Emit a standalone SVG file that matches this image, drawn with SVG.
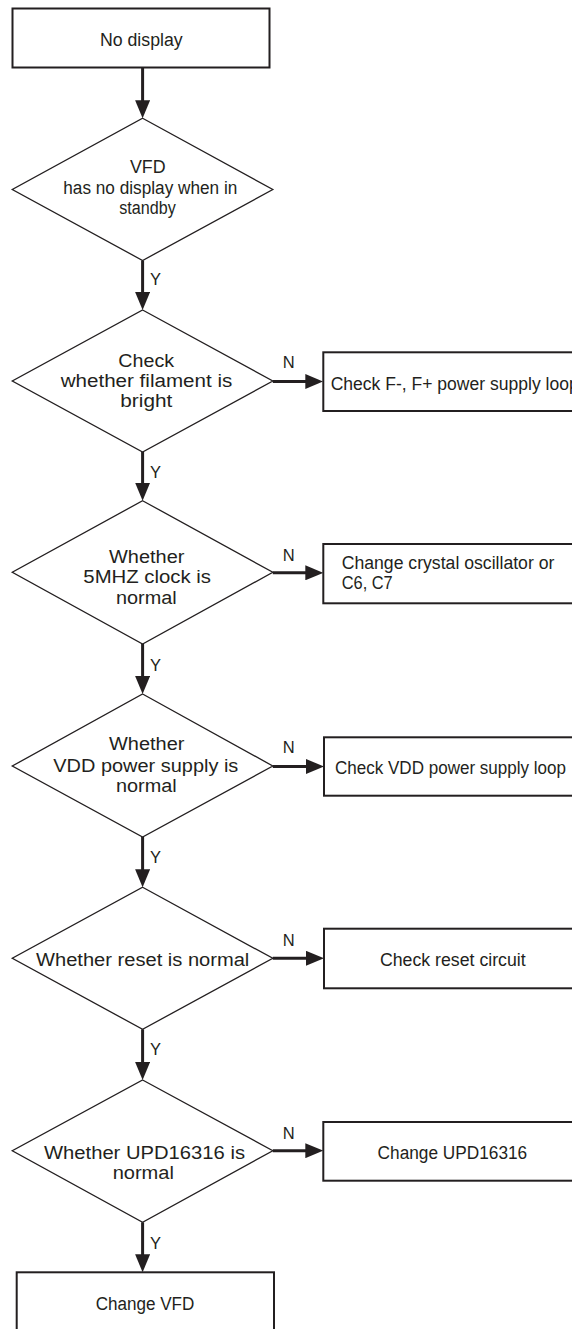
<svg xmlns="http://www.w3.org/2000/svg" width="572" height="1329" viewBox="0 0 572 1329">
  <style>
    .box { fill: #ffffff; stroke: #231f20; stroke-width: 2; }
    .dia { fill: #ffffff; stroke: #231f20; stroke-width: 1.3; stroke-linejoin: miter; }
    .edge { fill: none; stroke: #231f20; stroke-width: 3; marker-end: url(#arrow); }
    .t { font-family: "Liberation Sans", Arial, sans-serif; font-size: 18px; fill: #231f20; }
    .c { text-anchor: middle; }
    .lbl { font-family: "Liberation Sans", Arial, sans-serif; font-size: 16.5px; fill: #231f20; }
  </style>
  <defs>
    <marker id="arrow" markerUnits="userSpaceOnUse" markerWidth="18" markerHeight="15" refX="6" refY="7.5" orient="auto">
      <path d="M0,0 L18,7.5 L0,15 Z" fill="#231f20"/>
    </marker>
  </defs>

  <rect width="572" height="1329" fill="#ffffff"/>

  <!-- connectors -->
  <g id="connectors">
    <path class="edge" d="M142.6,67.5 V106.3"/>
    <path class="edge" d="M142.6,260.5 V298"/>
    <path class="edge" d="M142.6,452 V488.7"/>
    <path class="edge" d="M142.6,644 V682"/>
    <path class="edge" d="M142.6,837 V875.3"/>
    <path class="edge" d="M142.6,1029.3 V1068"/>
    <path class="edge" d="M142.6,1222.3 V1260.3"/>
    <path class="edge" d="M272.8,381.5 H311.3"/>
    <path class="edge" d="M272.8,572.8 H311.3"/>
    <path class="edge" d="M272.8,766.5 H312"/>
    <path class="edge" d="M272.8,958.3 H312"/>
    <path class="edge" d="M272.8,1150.7 H311.3"/>
    <g id="edge-labels">
      <text class="lbl" x="150" y="285">Y</text>
      <text class="lbl" x="150" y="478.3">Y</text>
      <text class="lbl" x="150" y="670.7">Y</text>
      <text class="lbl" x="150" y="862.7">Y</text>
      <text class="lbl" x="150" y="1055">Y</text>
      <text class="lbl" x="150" y="1249">Y</text>
      <text class="lbl" x="282.7" y="368.3">N</text>
      <text class="lbl" x="282.7" y="560.7">N</text>
      <text class="lbl" x="282.7" y="753.3">N</text>
      <text class="lbl" x="282.7" y="945.7">N</text>
      <text class="lbl" x="282.7" y="1139">N</text>
    </g>
  </g>

  <!-- start -->
  <g id="start">
    <rect class="box" x="12.5" y="8.5" width="257" height="59"/>
    <text class="t c" x="141.3" y="46" textLength="82.7" lengthAdjust="spacingAndGlyphs">No display</text>
  </g>

  <!-- decisions -->
  <g id="d1">
    <polygon class="dia" points="142.6,118.3 272.8,189.5 142.6,260.5 12.3,189.5"/>
    <text class="t c" x="147.8" y="172.5" textLength="35.7" lengthAdjust="spacingAndGlyphs">VFD</text>
    <text class="t c" x="150.3" y="193.5" textLength="174" lengthAdjust="spacingAndGlyphs">has no display when in</text>
    <text class="t c" x="147.5" y="213.5" textLength="56.4" lengthAdjust="spacingAndGlyphs">standby</text>
  </g>

  <g id="d2">
    <polygon class="dia" points="142.6,310 272.8,381 142.6,452 12.3,381"/>
    <text class="t c" x="146.2" y="367.3" textLength="55.7" lengthAdjust="spacingAndGlyphs">Check</text>
    <text class="t c" x="146.5" y="387.3" textLength="171.6" lengthAdjust="spacingAndGlyphs">whether filament is</text>
    <text class="t c" x="146.3" y="407.3" textLength="52" lengthAdjust="spacingAndGlyphs">bright</text>
  </g>

  <g id="d3">
    <polygon class="dia" points="142.6,500.7 272.8,572.3 142.6,644 12.3,572.3"/>
    <text class="t c" x="146.7" y="562.7" textLength="75.3" lengthAdjust="spacingAndGlyphs">Whether</text>
    <text class="t c" x="147.2" y="583.3" textLength="127.7" lengthAdjust="spacingAndGlyphs">5MHZ clock is</text>
    <text class="t c" x="146.3" y="604.3" textLength="60.7" lengthAdjust="spacingAndGlyphs">normal</text>
  </g>

  <g id="d4">
    <polygon class="dia" points="142.6,694 272.8,766 142.6,837 12.3,766"/>
    <text class="t c" x="146.7" y="750" textLength="75.3" lengthAdjust="spacingAndGlyphs">Whether</text>
    <text class="t c" x="145.8" y="771.7" textLength="185" lengthAdjust="spacingAndGlyphs">VDD power supply is</text>
    <text class="t c" x="146.3" y="792.4" textLength="60.7" lengthAdjust="spacingAndGlyphs">normal</text>
  </g>

  <g id="d5">
    <polygon class="dia" points="142.6,887.3 272.8,958.3 142.6,1029.3 12.3,958.3"/>
    <text class="t c" x="142.7" y="966" textLength="213.3" lengthAdjust="spacingAndGlyphs">Whether reset is normal</text>
  </g>

  <g id="d6">
    <polygon class="dia" points="142.6,1080 272.8,1150.7 142.6,1222.3 12.3,1150.7"/>
    <text class="t c" x="144.5" y="1159" textLength="201" lengthAdjust="spacingAndGlyphs">Whether UPD16316 is</text>
    <text class="t c" x="143.3" y="1179.3" textLength="61.3" lengthAdjust="spacingAndGlyphs">normal</text>
  </g>

  <!-- actions -->
  <g id="a1">
    <rect class="box" x="323.3" y="352.3" width="259" height="58.7"/>
    <text class="t" x="330.7" y="390" textLength="248" lengthAdjust="spacingAndGlyphs">Check F-, F+ power supply loop</text>
  </g>

  <g id="a2">
    <rect class="box" x="323.3" y="544" width="259" height="59.3"/>
    <text class="t" x="341.7" y="569" textLength="212.7" lengthAdjust="spacingAndGlyphs">Change crystal oscillator or</text>
    <text class="t" x="341.7" y="589.3" textLength="51" lengthAdjust="spacingAndGlyphs">C6, C7</text>
  </g>

  <g id="a3">
    <rect class="box" x="324" y="737.3" width="259" height="58.4"/>
    <text class="t" x="335" y="774" font-size="17" textLength="231" lengthAdjust="spacingAndGlyphs">Check VDD power supply loop</text>
  </g>

  <g id="a4">
    <rect class="box" x="324" y="928.7" width="259" height="59.6"/>
    <text class="t c" x="452.8" y="966" textLength="145.7" lengthAdjust="spacingAndGlyphs">Check reset circuit</text>
  </g>

  <g id="a5">
    <rect class="box" x="323.3" y="1122" width="259" height="58.7"/>
    <text class="t c" x="452.4" y="1159" textLength="149.6" lengthAdjust="spacingAndGlyphs">Change UPD16316</text>
  </g>

  <g id="end">
    <rect class="box" x="16.7" y="1272.3" width="257.3" height="70"/>
    <text class="t c" x="145" y="1310" textLength="98.7" lengthAdjust="spacingAndGlyphs">Change VFD</text>
  </g>
</svg>
